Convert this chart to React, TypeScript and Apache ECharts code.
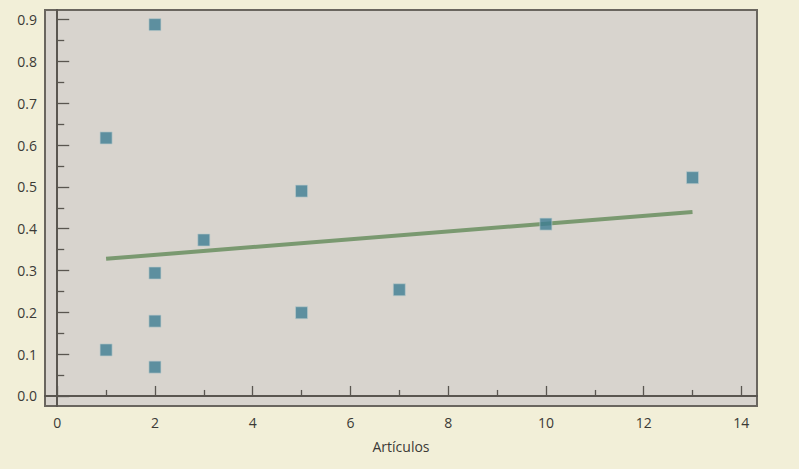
import React, { useEffect, useRef } from "react";
import * as echarts from "echarts";

const articulos = [1, 1, 2, 2, 2, 2, 3, 5, 5, 7, 10, 13];
const valores = [0.11, 0.617, 0.888, 0.294, 0.179, 0.069, 0.373, 0.49, 0.199, 0.254, 0.411, 0.522];
const trendX = [1, 13];
const trendY = [0.328, 0.44];
const xMajor = [0, 2, 4, 6, 8, 10, 12, 14];
const xMinor = [1, 3, 5, 7, 9, 11, 13];
const yMajor = [0, 0.1, 0.2, 0.3, 0.4, 0.5, 0.6, 0.7, 0.8, 0.9];
const yMinor = [0.05, 0.15, 0.25, 0.35, 0.45, 0.55, 0.65, 0.75, 0.85];
const xName = "Artículos";

const FONT = "'Open Sans', 'Noto Sans', sans-serif";
const AXIS = "#5a5650";
const TEXT = "#3b3a36";

export default function App() {
  const ref = useRef<HTMLDivElement>(null);
  useEffect(() => {
    if (!ref.current) return;
    const chart = echarts.init(ref.current, undefined, { renderer: "svg" });
    const xMin = -0.25, xMax = 14.32, yMin = -0.024, yMax = 0.923;
    const baseX = (extra: any) => ({
      type: "value",
      min: xMin,
      max: xMax,
      position: "bottom",
      splitLine: { show: false },
      axisLine: { show: true, lineStyle: { color: AXIS, width: 2 } },
      ...extra,
    });
    const baseY = (extra: any) => ({
      type: "value",
      min: yMin,
      max: yMax,
      position: "left",
      splitLine: { show: false },
      axisLine: { show: true, lineStyle: { color: AXIS, width: 2 } },
      ...extra,
    });
    chart.setOption({
      animation: false,
      backgroundColor: "#f2efd8",
      grid: {
        left: 45,
        top: 10,
        right: 42,
        bottom: 63,
        show: true,
        backgroundColor: "#d8d4ce",
        borderColor: "#6a665f",
        borderWidth: 2,
      },
      xAxis: [
        baseX({
          name: xName,
          nameLocation: "middle",
          nameGap: 33,
          nameTextStyle: { color: TEXT, fontSize: 14, fontFamily: FONT },
          axisTick: { show: true, inside: true, length: 10, customValues: xMajor, lineStyle: { color: AXIS, width: 1.3 } },
          axisLabel: { show: true, customValues: xMajor, margin: 9, color: TEXT, fontSize: 14, fontFamily: FONT },
        }),
        baseX({
          axisTick: { show: true, inside: true, length: 6, customValues: xMinor, lineStyle: { color: AXIS, width: 1.3 } },
          axisLabel: { show: false },
        }),
      ],
      yAxis: [
        baseY({
          axisTick: { show: true, inside: true, length: 12, customValues: yMajor, lineStyle: { color: AXIS, width: 1.3 } },
          axisLabel: {
            show: true,
            customValues: yMajor,
            margin: 8,
            color: TEXT,
            fontSize: 14,
            fontFamily: FONT,
            formatter: (v: number) => v.toFixed(1),
          },
        }),
        baseY({
          axisTick: { show: true, inside: true, length: 7, customValues: yMinor, lineStyle: { color: AXIS, width: 1.3 } },
          axisLabel: { show: false },
        }),
      ],
      series: [
        {
          type: "line",
          xAxisIndex: 0,
          yAxisIndex: 0,
          data: trendX.map((x, i) => [x, trendY[i]]),
          showSymbol: false,
          symbol: "none",
          lineStyle: { color: "#7a9970", width: 4 },
          z: 2,
        },
        {
          type: "scatter",
          xAxisIndex: 0,
          yAxisIndex: 0,
          data: articulos.map((x, i) => [x, valores[i]]),
          symbol: "rect",
          symbolSize: 12,
          itemStyle: { color: "#3e7d93", borderColor: "#b9c9cb", borderWidth: 0.8 },
          z: 3,
        },
      ],
    });
    return () => chart.dispose();
  }, []);
  return (
    <div
      ref={ref}
      style={{ position: "fixed", left: 0, top: 0, width: 799, height: 469 }}
    />
  );
}
